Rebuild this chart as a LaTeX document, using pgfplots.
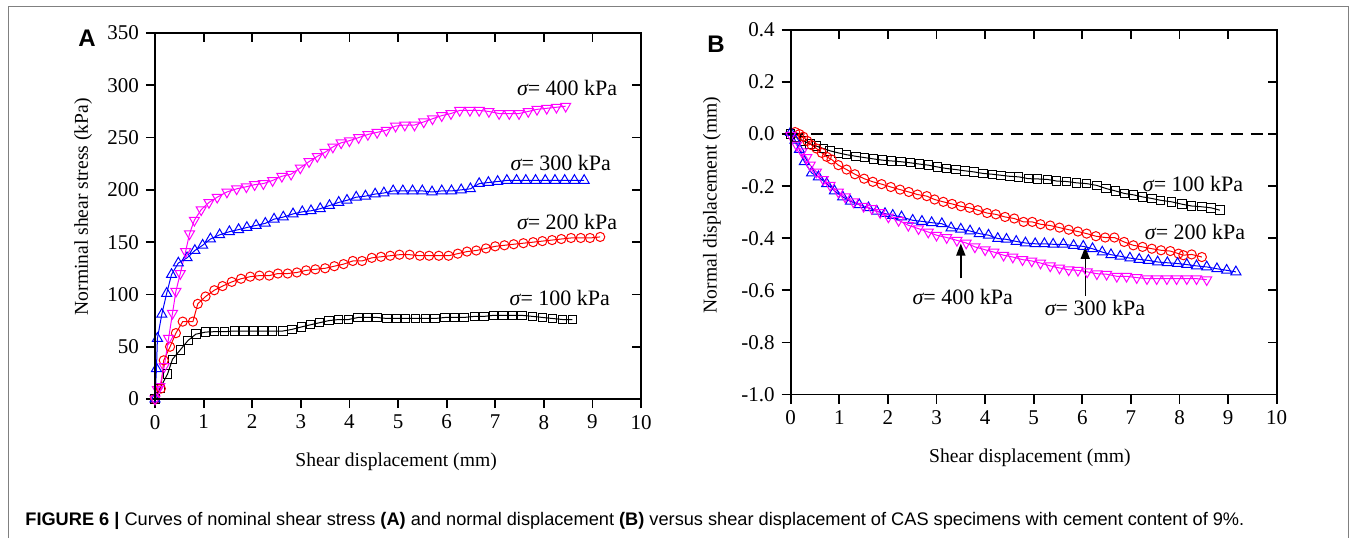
\documentclass[border=0pt]{standalone}
\usepackage{fontspec}
\setmainfont{Liberation Serif}
\newfontfamily\capfont{Liberation Sans}
\usepackage{pgfplots}
\pgfplotsset{compat=1.18}
\usetikzlibrary{arrows.meta}

\definecolor{mag}{RGB}{255,0,255}

\pgfplotsset{
  panel/.style={scale only axis, width=243pt, xmin=0, xmax=10, xtick={0,1,...,10},
    axis line style={line width=0.9pt}, tick style={line width=0.9pt, black},
    major tick length=4.5pt,
    tick label style={font=\fontsize{10.5}{12}\selectfont},
    label style={font=\fontsize{9.8}{11}\selectfont},
    /pgf/number format/assume math mode=true, clip=false},
  outer/.style={panel, tick pos=left, tick align=outside},
  inner/.style={panel, tick pos=right, tick align=inside, xticklabels={}, yticklabels={}},
  s100/.style={black, line width=0.5pt, mark=square, mark size=2.1pt},
  s200/.style={red, line width=0.5pt, mark=o, mark size=2.3pt},
  s300/.style={blue, line width=0.5pt, mark=triangle, mark size=2.9pt},
  s400/.style={mag, line width=0.5pt, mark=triangle, mark size=2.9pt, mark options={rotate=180}},
}
\tikzset{lab/.style={font=\fontsize{11}{12}\selectfont, inner sep=0pt}}

\begin{document}
\begin{tikzpicture}
\useasboundingbox (0,0) rectangle (677pt,269pt);
\draw[gray, line width=0.5pt] (4pt,0) -- (4pt,266pt) -- (674pt,266pt) -- (674pt,0);

% ---------------- panel A ----------------
\begin{axis}[outer, at={(77.5pt,69.5pt)}, anchor=south west, height=183pt,
    ymin=0, ymax=350, ytick={0,50,...,350},
    xlabel={Shear displacement (mm)}, ylabel={Norminal shear stress (kPa)},
    xlabel style={at={(axis description cs:0.496,-0.172)}, anchor=center},
    ylabel style={at={(axis description cs:-0.148,0.525)}, anchor=center}]
\addplot[s100] coordinates {
(0,0) (0.1,10) (0.26,24) (0.36,38) (0.52,47) (0.68,56) (0.84,62) (1.04,64) (1.23,64.4)
(1.43,64.4) (1.63,65) (1.83,65) (2.03,65) (2.22,65) (2.42,65) (2.63,65) (2.82,66.6)
(3.02,69) (3.2,71) (3.39,73) (3.58,75) (3.78,76) (3.98,76) (4.18,78) (4.37,78) (4.57,78)
(4.77,77) (4.97,77) (5.16,77) (5.36,77) (5.56,77) (5.76,77) (5.97,78) (6.16,78) (6.36,78)
(6.57,79) (6.77,79) (6.96,80) (7.16,80) (7.36,80) (7.55,80) (7.77,79) (7.97,78) (8.18,77)
(8.39,76) (8.59,76)};
\addplot[s200] coordinates {
(0,0) (0.12,10) (0.18,37) (0.31,50) (0.43,63) (0.57,74) (0.78,74) (0.88,91) (1.04,98)
(1.22,104) (1.39,108) (1.58,112) (1.77,115) (1.96,117) (2.15,118) (2.35,118) (2.53,120)
(2.73,120) (2.92,121) (3.11,123) (3.3,124) (3.5,125) (3.69,127) (3.88,129) (4.07,132)
(4.26,132) (4.46,135) (4.65,136) (4.84,137) (5.03,138) (5.24,138) (5.45,137) (5.64,137)
(5.84,137) (6.04,137) (6.23,139) (6.42,141) (6.61,142) (6.81,144) (7.0,146) (7.19,147)
(7.38,148) (7.58,149) (7.78,150) (7.97,151) (8.17,152) (8.36,153) (8.56,154) (8.76,154)
(8.95,154) (9.16,155)};
\addplot[s300] coordinates {
(0,0) (0.03,29) (0.05,58) (0.14,81) (0.24,101) (0.34,119) (0.48,130) (0.66,135) (0.82,142)
(0.98,147) (1.14,153) (1.33,157) (1.53,160) (1.72,162) (1.89,164) (2.08,166) (2.27,168)
(2.45,172) (2.64,174) (2.84,177) (3.03,179) (3.21,180) (3.4,182) (3.59,185) (3.78,188)
(3.95,190) (4.14,193) (4.33,194) (4.53,196) (4.71,197) (4.9,199) (5.1,199) (5.3,199)
(5.5,199) (5.7,198) (5.9,199) (6.1,199) (6.3,200) (6.49,201) (6.67,206) (6.86,207)
(7.05,208) (7.24,209) (7.44,209) (7.63,209) (7.83,209) (8.03,209) (8.23,209) (8.43,209)
(8.63,209) (8.83,209)};
\addplot[s400] coordinates {
(0,0) (0.05,9) (0.1,12) (0.19,31) (0.28,58) (0.36,82) (0.43,103) (0.52,120) (0.63,141)
(0.71,158) (0.81,171) (0.95,181) (1.11,188) (1.28,193) (1.48,198) (1.68,201) (1.88,203)
(2.05,205) (2.23,206) (2.42,209) (2.61,213) (2.8,215) (2.99,221) (3.17,227) (3.34,232)
(3.5,236) (3.66,241) (3.83,245) (4.0,247) (4.19,250) (4.38,253) (4.57,255) (4.76,257)
(4.95,261) (5.14,262) (5.34,262) (5.53,265) (5.71,268) (5.9,271) (6.09,273) (6.27,276)
(6.48,276) (6.67,276) (6.87,275) (7.08,273) (7.29,273) (7.49,273) (7.68,275) (7.86,277)
(8.06,278) (8.26,279) (8.45,280)};
\node[lab] at (axis cs:8.48,297.4) {{\itshape σ}= 400 kPa};
\node[lab] at (axis cs:8.35,225.7) {{\itshape σ}= 300 kPa};
\node[lab] at (axis cs:8.48,169.3) {{\itshape σ}= 200 kPa};
\node[lab] at (axis cs:8.33,96.6) {{\itshape σ}= 100 kPa};
\end{axis}
\begin{axis}[inner, at={(77.5pt,69.5pt)}, anchor=south west, height=183pt,
    ymin=0, ymax=350, ytick={0,50,...,350}]
\end{axis}
\node[font=\capfont\bfseries\fontsize{12}{14}\selectfont, inner sep=0pt] at (43.5pt,250pt) {A};

% ---------------- panel B ----------------
\begin{axis}[outer, at={(395.35pt,71.75pt)}, anchor=south west, height=182.25pt,
    ymin=-1, ymax=0.4, ytick={-1,-0.8,-0.6,-0.4,-0.2,0,0.2,0.4},
    yticklabel style={/pgf/number format/.cd, fixed, fixed zerofill, precision=1},
    xlabel={Shear displacement (mm)}, ylabel={Normal displacement (mm)},
    xlabel style={at={(axis description cs:0.492,-0.174)}, anchor=center},
    ylabel style={at={(axis description cs:-0.162,0.52)}, anchor=center}]
\addplot[black, line width=0.8pt, dash pattern=on 6pt off 4pt] coordinates {(0,0) (10,0)};
\addplot[s100] coordinates {
(0,0) (0.12,-0.013) (0.26,-0.026) (0.4,-0.038) (0.53,-0.046) (0.67,-0.055) (0.81,-0.064)
(0.98,-0.072) (1.15,-0.079) (1.34,-0.085) (1.52,-0.09) (1.7,-0.095) (1.89,-0.1) (2.08,-0.103)
(2.27,-0.106) (2.46,-0.11) (2.65,-0.115) (2.83,-0.119) (3.02,-0.126) (3.21,-0.132)
(3.4,-0.136) (3.59,-0.141) (3.77,-0.145) (3.96,-0.151) (4.15,-0.154) (4.33,-0.158)
(4.51,-0.162) (4.69,-0.164) (4.89,-0.171) (5.08,-0.172) (5.28,-0.174) (5.47,-0.18)
(5.68,-0.182) (5.88,-0.187) (6.09,-0.19) (6.3,-0.197) (6.49,-0.209) (6.68,-0.218)
(6.87,-0.228) (7.05,-0.233) (7.24,-0.241) (7.43,-0.247) (7.61,-0.254) (7.84,-0.26)
(8.05,-0.269) (8.25,-0.276) (8.46,-0.279) (8.65,-0.283) (8.83,-0.292)};
\addplot[s200] coordinates {
(0.09,0.008) (0.18,0) (0.26,-0.01) (0.34,-0.026) (0.43,-0.042) (0.53,-0.055) (0.64,-0.072)
(0.74,-0.087) (0.84,-0.097) (0.98,-0.119) (1.15,-0.136) (1.32,-0.154) (1.51,-0.171)
(1.69,-0.183) (1.87,-0.192) (2.06,-0.203) (2.25,-0.213) (2.43,-0.222) (2.61,-0.232)
(2.8,-0.238) (2.96,-0.251) (3.14,-0.26) (3.32,-0.268) (3.5,-0.277) (3.68,-0.283)
(3.85,-0.292) (4.04,-0.303) (4.22,-0.308) (4.41,-0.318) (4.6,-0.324) (4.79,-0.337)
(4.97,-0.337) (5.14,-0.346) (5.34,-0.351) (5.53,-0.359) (5.72,-0.367) (5.91,-0.374)
(6.09,-0.382) (6.28,-0.392) (6.47,-0.397) (6.66,-0.397) (6.86,-0.414) (7.05,-0.427)
(7.24,-0.433) (7.43,-0.44) (7.62,-0.446) (7.81,-0.449) (7.98,-0.459) (8.08,-0.465)
(8.25,-0.462) (8.46,-0.472)};
\addplot[s300] coordinates {
(0,0.006) (0.09,-0.023) (0.18,-0.059) (0.28,-0.106) (0.43,-0.149) (0.57,-0.164) (0.74,-0.19)
(0.9,-0.218) (1.07,-0.241) (1.23,-0.258) (1.41,-0.271) (1.6,-0.283) (1.77,-0.296)
(1.94,-0.305) (2.1,-0.312) (2.28,-0.318) (2.51,-0.331) (2.7,-0.335) (2.9,-0.34)
(3.11,-0.344) (3.3,-0.36) (3.5,-0.365) (3.69,-0.372) (3.88,-0.382) (4.07,-0.388)
(4.26,-0.401) (4.44,-0.404) (4.64,-0.412) (4.83,-0.418) (5.03,-0.421) (5.22,-0.421)
(5.4,-0.423) (5.61,-0.423) (5.82,-0.428) (6.02,-0.431) (6.21,-0.44) (6.41,-0.453)
(6.59,-0.463) (6.78,-0.469) (6.98,-0.476) (7.17,-0.481) (7.36,-0.485) (7.55,-0.491)
(7.75,-0.494) (7.96,-0.497) (8.15,-0.501) (8.35,-0.506) (8.56,-0.51) (8.77,-0.517)
(8.97,-0.523) (9.16,-0.529)};
\addplot[s400] coordinates {
(0,-0.004) (0.12,-0.042) (0.23,-0.068) (0.33,-0.09) (0.4,-0.119) (0.53,-0.145) (0.67,-0.174)
(0.81,-0.196) (0.98,-0.222) (1.12,-0.241) (1.29,-0.26) (1.5,-0.277) (1.67,-0.286)
(1.84,-0.301) (2.01,-0.318) (2.22,-0.331) (2.42,-0.35) (2.63,-0.363) (2.83,-0.376)
(3.0,-0.388) (3.21,-0.397) (3.42,-0.408) (3.61,-0.418) (3.79,-0.433) (4.0,-0.444)
(4.18,-0.453) (4.38,-0.465) (4.57,-0.472) (4.77,-0.482) (4.96,-0.487) (5.14,-0.495)
(5.34,-0.506) (5.53,-0.514) (5.72,-0.521) (5.91,-0.523) (6.1,-0.529) (6.3,-0.536)
(6.5,-0.538) (6.71,-0.546) (6.91,-0.546) (7.12,-0.551) (7.33,-0.555) (7.53,-0.555)
(7.74,-0.555) (7.94,-0.555) (8.15,-0.555) (8.35,-0.555) (8.56,-0.559)};
\node[lab] at (axis cs:8.28,-0.192) {{\itshape σ}= 100 kPa};
\node[lab] at (axis cs:8.32,-0.377) {{\itshape σ}= 200 kPa};
\node[lab] at (axis cs:3.54,-0.627) {{\itshape σ}= 400 kPa};
\node[lab] at (axis cs:6.26,-0.669) {{\itshape σ}= 300 kPa};
\draw[line width=0.7pt, -{Triangle[length=6pt,width=4.5pt]}] (axis cs:3.5,-0.554) -- (axis cs:3.5,-0.42);
\draw[line width=0.7pt, -{Triangle[length=6pt,width=4.5pt]}] (axis cs:6.06,-0.62) -- (axis cs:6.06,-0.433);
\end{axis}
\begin{axis}[inner, at={(395.35pt,71.75pt)}, anchor=south west, height=182.25pt,
    ymin=-1, ymax=0.4, ytick={-1,-0.8,-0.6,-0.4,-0.2,0,0.2,0.4}]
\end{axis}
\node[font=\capfont\bfseries\fontsize{12}{14}\selectfont, inner sep=0pt] at (358pt,247pt) {B};

% caption
\node[anchor=base west, inner sep=0pt, font=\capfont\fontsize{9.1}{11}\selectfont] at (12.5pt,6.5pt)
  {\textbf{FIGURE 6 |} Curves of nominal shear stress \textbf{(A)} and normal displacement \textbf{(B)} versus shear displacement of CAS specimens with cement content of 9\%.};
\end{tikzpicture}
\end{document}
